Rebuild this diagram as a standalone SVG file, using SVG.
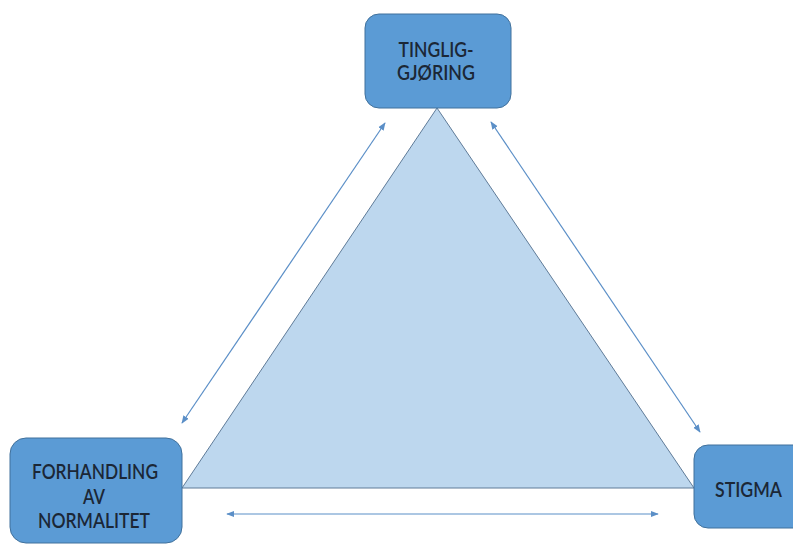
<svg xmlns="http://www.w3.org/2000/svg" width="793" height="544" viewBox="0 0 793 544">
  <style>
    .box { fill: #5b9bd5; stroke: #41719c; stroke-width: 1; }
    .label { font-family: "Lato", "Liberation Sans", sans-serif; font-size: 21px; font-weight: 600; fill: #1b2736; text-anchor: middle; }
    .link { stroke: #5b8fc7; stroke-width: 1.2; fill: none; marker-start: url(#head); marker-end: url(#head); }
    .tri { fill: #bdd7ee; stroke: #5f7b98; stroke-width: 1; }
  </style>
  <defs>
    <marker id="head" viewBox="0 0 10 10" refX="9" refY="5" markerWidth="8" markerHeight="8" markerUnits="userSpaceOnUse" orient="auto-start-reverse">
      <path d="M0,1 L10,5 L0,9 Z" fill="#5b8fc7"/>
    </marker>
  </defs>

  <rect width="793" height="544" fill="#ffffff"/>

  <!-- central triangle -->
  <g id="triangle">
    <polygon class="tri" points="437,108 182,488 694,488"/>
  </g>

  <!-- two-way links between the three concepts -->
  <g id="connectors">
    <line class="link" x1="385" y1="123" x2="182" y2="423"/>
    <line class="link" x1="491" y1="122" x2="700" y2="432"/>
    <line class="link" x1="227" y1="514" x2="658" y2="514"/>
  </g>

  <g id="node-tingliggjoring">
    <rect class="box" x="365" y="14" width="146" height="94" rx="14" ry="14"/>
    <text class="label" x="436" y="57" textLength="75" lengthAdjust="spacingAndGlyphs">TINGLIG-</text>
    <text class="label" x="436" y="80" textLength="78" lengthAdjust="spacingAndGlyphs">GJØRING</text>
  </g>

  <g id="node-forhandling">
    <rect class="box" x="10" y="438" width="172" height="105" rx="16" ry="16"/>
    <text class="label" x="95" y="479" textLength="126" lengthAdjust="spacingAndGlyphs">FORHANDLING</text>
    <text class="label" x="94" y="504" textLength="22" lengthAdjust="spacingAndGlyphs">AV</text>
    <text class="label" x="94" y="528" textLength="112" lengthAdjust="spacingAndGlyphs">NORMALITET</text>
  </g>

  <g id="node-stigma">
    <rect class="box" x="694" y="445" width="115" height="83" rx="14" ry="14"/>
    <text class="label" x="748.5" y="497" textLength="67" lengthAdjust="spacingAndGlyphs">STIGMA</text>
  </g>
</svg>
